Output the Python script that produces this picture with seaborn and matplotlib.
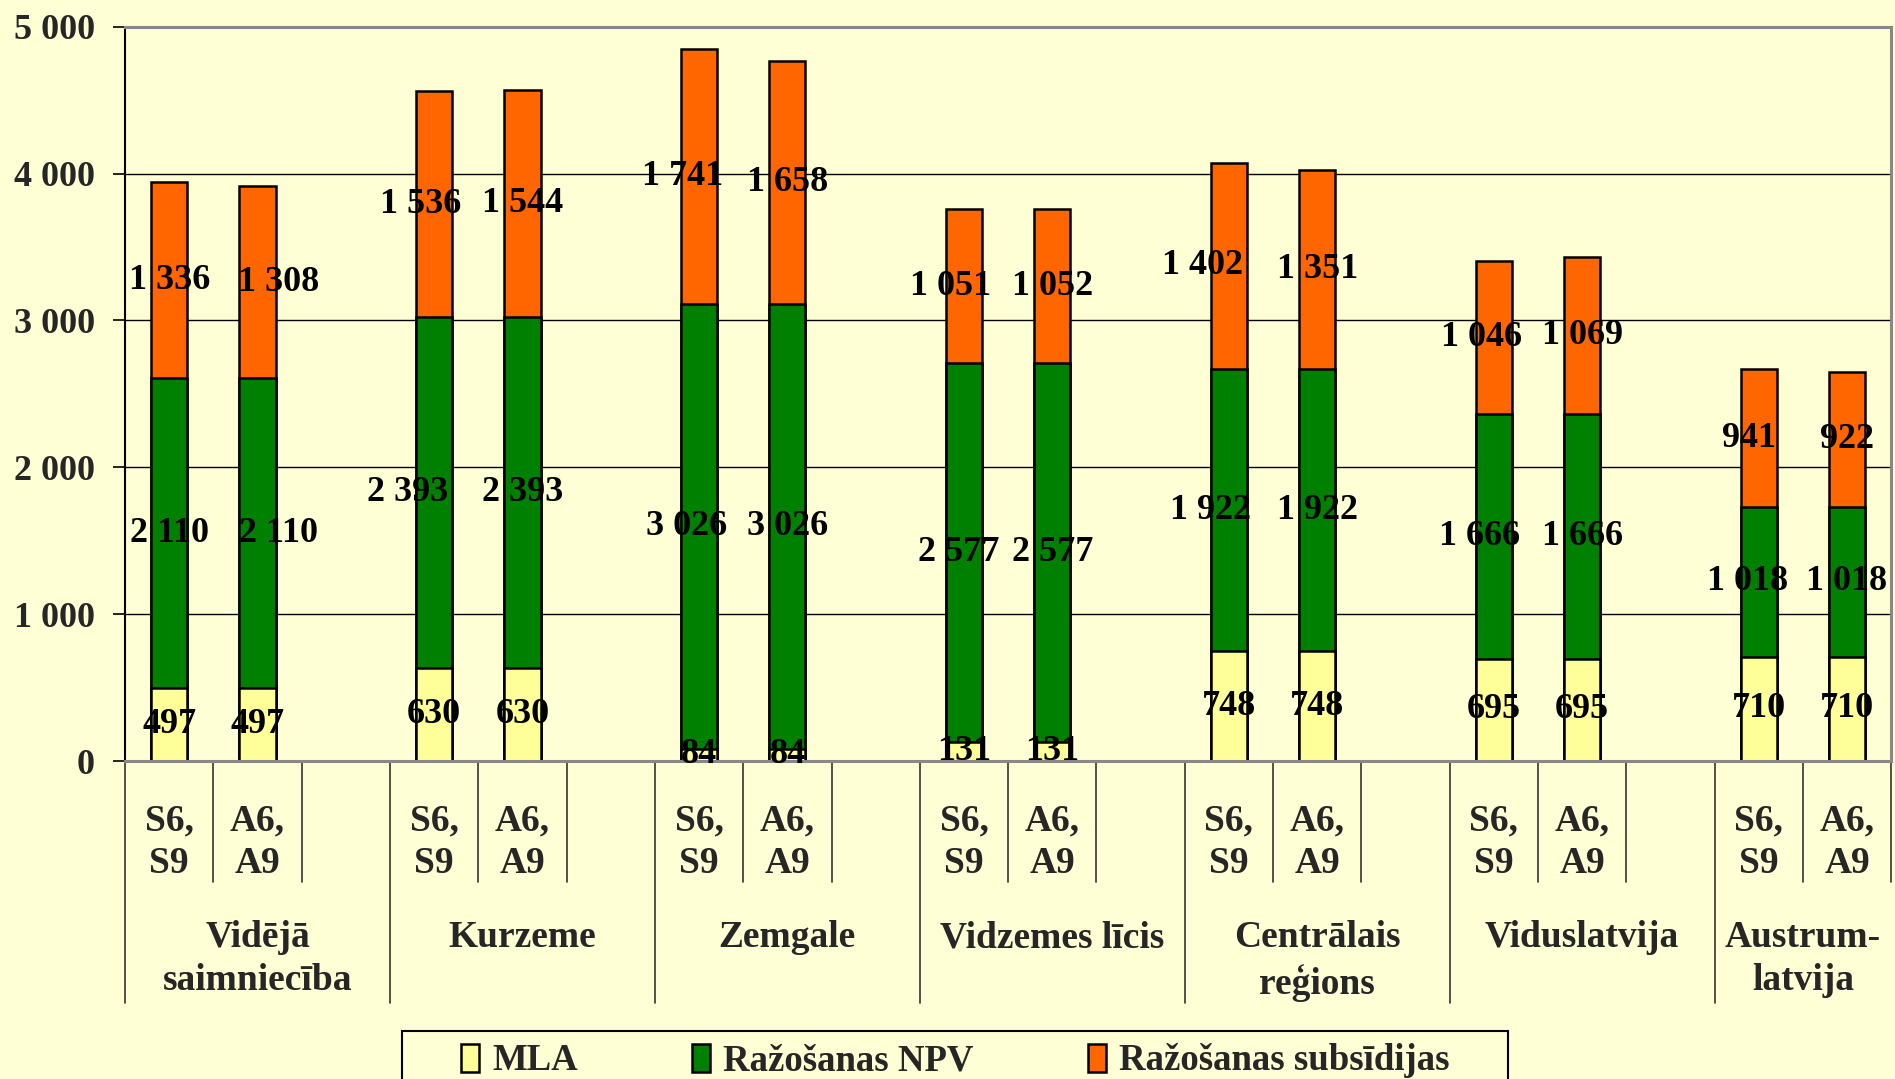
import numpy as np
import pandas as pd
import matplotlib
matplotlib.use("Agg")
import matplotlib.pyplot as plt
import matplotlib.transforms as mtransforms
from matplotlib.patches import Patch, Rectangle
import seaborn as sns

regions = ["Vidējā\nsaimniecība", "Kurzeme", "Zemgale", "Vidzemes līcis",
           "Centrālais\nreģions", "Viduslatvija", "Austrum-\nlatvija"]
scenarios = ["S6,\nS9", "A6,\nA9"]
series = ["MLA", "Ražošanas NPV", "Ražošanas subsīdijas"]

mla_s = [497, 630, 84, 131, 748, 695, 710]
mla_a = [497, 630, 84, 131, 748, 695, 710]
npv_s = [2110, 2393, 3026, 2577, 1922, 1666, 1018]
npv_a = [2110, 2393, 3026, 2577, 1922, 1666, 1018]
sub_s = [1336, 1536, 1741, 1051, 1402, 1046, 941]
sub_a = [1308, 1544, 1658, 1052, 1351, 1069, 922]

colors = ["#FFFF99", "#008000", "#FF6600"]
bg = "#FFFFD5"

# horizontal nudges (points) of the NPV / subsidy labels, as placed in the original
shift_s_npv = [0, -19, -9, -4, -13, -10, -8]
shift_s_sub = [0, -10, -12, -10, -19, -9, -7]
shift_a_npv = [15, 0, 0, 0, 0, 0, 0]
shift_a_sub = [15, 0, 0, 0, 0, 0, 0]

rows = []
for g in range(len(regions)):
    rows.append(dict(pos=3 * g, scen=scenarios[0], MLA=mla_s[g], NPV=npv_s[g], SUB=sub_s[g],
                     dn=shift_s_npv[g], ds=shift_s_sub[g]))
    rows.append(dict(pos=3 * g + 1, scen=scenarios[1], MLA=mla_a[g], NPV=npv_a[g], SUB=sub_a[g],
                     dn=shift_a_npv[g], ds=shift_a_sub[g]))
df = pd.DataFrame(rows)
df["c1"] = df["MLA"]
df["c2"] = df["MLA"] + df["NPV"]
df["c3"] = df["c2"] + df["SUB"]

sns.set_theme(style="white")
plt.rcParams["font.family"] = ["Liberation Serif", "DejaVu Serif"]
plt.rcParams["font.weight"] = "bold"

fig = plt.figure(figsize=(18.95, 10.79), dpi=100, facecolor=bg)
ax = fig.add_axes([0.066, 0.2947, 0.932, 0.6806])
ax.set_facecolor(bg)

# stacked bars drawn as layered cumulative totals
for col, c in zip(["c3", "c2", "c1"], colors[::-1]):
    sns.barplot(data=df, x="pos", y=col, native_scale=True, color=c, saturation=1,
                width=0.41, edgecolor="black", linewidth=1.8, errorbar=None, ax=ax)

# data labels
fmt = lambda v: f"{v:,}".replace(",", " ")
for _, r in df.iterrows():
    bottom = 0
    for key, dx in [("MLA", 0), ("NPV", r["dn"]), ("SUB", r["ds"])]:
        v = r[key]
        ax.annotate(fmt(v), (r["pos"], bottom + v / 2), xytext=(dx, 0),
                    textcoords="offset points", ha="center", va="center",
                    fontsize=26, fontweight="bold", color="black", zorder=5)
        bottom += v

ax.set_xlim(-0.5, 19.5)
ax.set_ylim(0, 5000)
ax.set_yticks(range(0, 5001, 1000))
ax.set_yticklabels([fmt(v) for v in range(0, 5001, 1000)], fontsize=26, fontweight="bold")
ax.set_xticks([])
ax.set_xlabel("")
ax.set_ylabel("")
ax.tick_params(axis="y", length=8.6, width=1.2, color="black", pad=13, left=True)
ax.set_axisbelow(True)
ax.yaxis.grid(True, color="black", linewidth=1)

for side in ["top", "right", "bottom"]:
    ax.spines[side].set_color("#888888")
    ax.spines[side].set_linewidth(2.2)
ax.spines["left"].set_color("black")
ax.spines["left"].set_linewidth(1.5)

# multi-level category axis
trans = mtransforms.blended_transform_factory(ax.transData, ax.transAxes)
ax.plot([-0.5, -0.5], [0, -0.33], transform=trans, clip_on=False, color="#333333", lw=1.2)
for g in range(len(regions)):
    for s in (0.5, 1.5):
        ax.plot([3 * g + s] * 2, [0, -0.165], transform=trans, clip_on=False,
                color="#333333", lw=1.2)
    ax.plot([3 * g + 2.5] * 2, [0, -0.33], transform=trans, clip_on=False,
            color="#333333", lw=1.2)
    for s in range(2):
        ax.text(3 * g + s, -0.111, scenarios[s], transform=trans, ha="center", va="center",
                fontsize=27, fontweight="bold", linespacing=1.27)
    cx = 3 * g + 1 if g < len(regions) - 1 else 18.5
    ax.text(cx, -0.217, regions[g], transform=trans, ha="center", va="top",
            fontsize=27, fontweight="bold", linespacing=1.3)

# legend
fig.patches.append(Rectangle((0.2121, -0.06), 0.5836, 0.1045, transform=fig.transFigure,
                             facecolor=bg, edgecolor="black", linewidth=1.5, zorder=1))
handles = [Patch(facecolor=c, edgecolor="black", linewidth=1.8) for c in colors]
fig.legend(handles, series, loc="center", bbox_to_anchor=(0.504, 0.0168), ncol=3,
           frameon=False, prop={"size": 26.5, "weight": "bold"}, handlelength=0.5,
           handleheight=0.8, handletextpad=0.35, columnspacing=3.1, borderpad=0)

fig.savefig("out.png", dpi=100, facecolor=bg)
